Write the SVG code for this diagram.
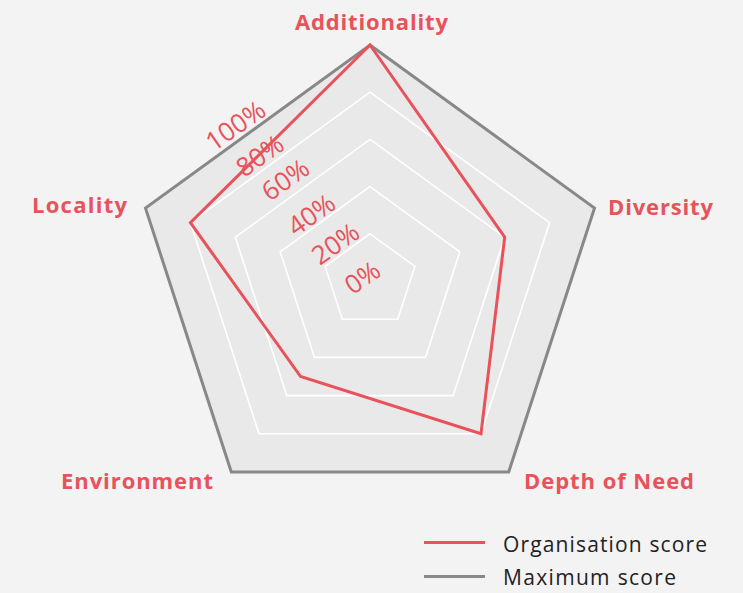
<svg xmlns="http://www.w3.org/2000/svg" width="743" height="593" viewBox="0 0 743 593">
<style>
.grid{fill:none;stroke:#ffffff;stroke-width:1.6}
.axis{font-family:"Open Sans","Liberation Sans",sans-serif;font-weight:bold;font-size:22px;fill:#e8525a}
.tick{font-family:"Open Sans","Liberation Sans",sans-serif;font-size:26px;fill:#e8525a;text-anchor:middle;dominant-baseline:central}
.leg{font-family:"Open Sans","Liberation Sans",sans-serif;font-size:21px;fill:#222222}
</style>
<rect x="0" y="0" width="743" height="593" fill="#f3f3f3"/>
<g id="chart-area">
<polygon points="370,45 594.5,208.1 508.7,471.9 231.3,471.9 145.5,208.1" fill="#e9e9e9" stroke="none"/>
<polygon class="grid" points="370,92.2 549.6,222.7 481.0,433.7 259.0,433.7 190.4,222.7"/>
<polygon class="grid" points="370,139.4 504.7,237.2 453.2,395.6 286.8,395.6 235.3,237.2"/>
<polygon class="grid" points="370,186.6 459.8,251.8 425.5,357.4 314.5,357.4 280.2,251.8"/>
<polygon class="grid" points="370,233.8 414.9,266.4 397.7,319.2 342.3,319.2 325.1,266.4"/>
</g>
<g id="connectors">
<polygon id="maximum-score" points="370,45 594.5,208.1 508.7,471.9 231.3,471.9 145.5,208.1" fill="none" stroke="#888888" stroke-width="3" stroke-linejoin="miter"/>
<polygon id="organisation-score" points="370,45 504.7,237.2 481.0,433.7 300.6,376.5 190.4,222.7" fill="none" stroke="#e8525a" stroke-width="3" stroke-linejoin="miter"/>
</g>
<g id="ticks">
<text class="tick" transform="translate(362,277) rotate(-35)">0%</text>
<text class="tick" transform="translate(335,243) rotate(-35)">20%</text>
<text class="tick" transform="translate(311,214) rotate(-35)">40%</text>
<text class="tick" transform="translate(285,179) rotate(-35)">60%</text>
<text class="tick" transform="translate(259.5,155) rotate(-35)">80%</text>
<text class="tick" transform="translate(235,125) rotate(-35)">100%</text>
</g>
<g id="node-additionality"><text class="axis" x="295" y="30" textLength="153">Additionality</text></g>
<g id="node-diversity"><text class="axis" x="608" y="215" textLength="105">Diversity</text></g>
<g id="node-depth-of-need"><text class="axis" x="524" y="489" textLength="170">Depth of Need</text></g>
<g id="node-environment"><text class="axis" x="61" y="489" textLength="152">Environment</text></g>
<g id="node-locality"><text class="axis" x="32" y="213" textLength="95">Locality</text></g>
<g id="legend">
<line x1="424" y1="542.5" x2="485" y2="542.5" stroke="#e8525a" stroke-width="3"/>
<text class="leg" x="503" y="552" textLength="204">Organisation score</text>
<line x1="424" y1="576.5" x2="485" y2="576.5" stroke="#888888" stroke-width="3"/>
<text class="leg" x="503" y="585" textLength="173">Maximum score</text>
</g>
</svg>
